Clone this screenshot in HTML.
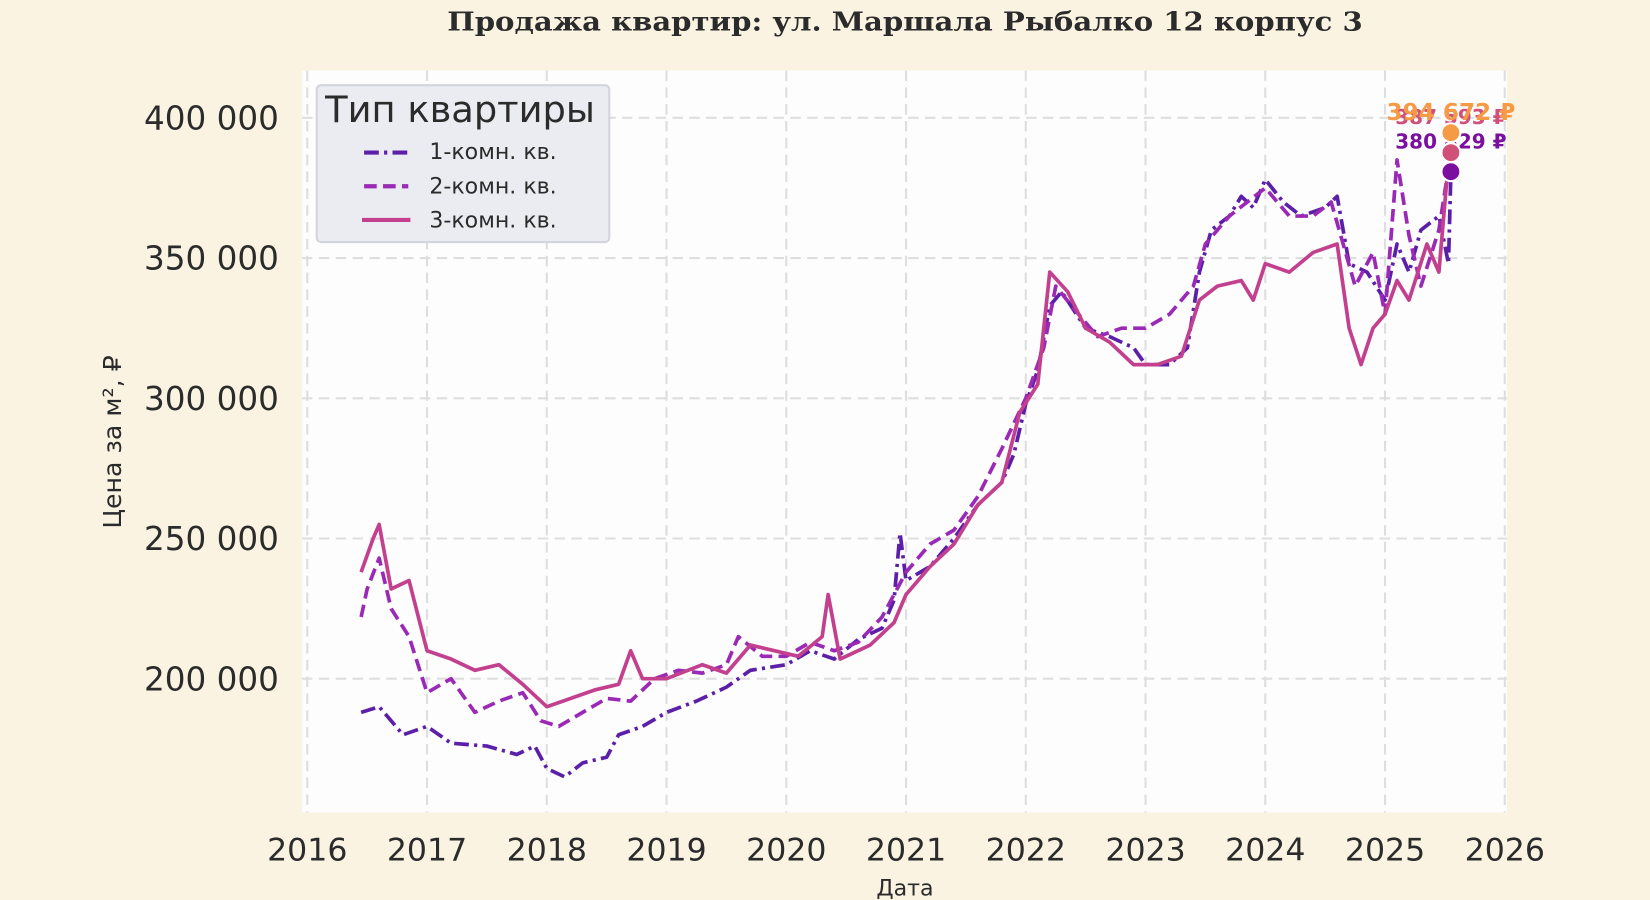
<!DOCTYPE html>
<html><head><meta charset="utf-8"><style>
body{margin:0;background:#fbf3e2;}
svg{display:block;font-family:"DejaVu Sans","Liberation Sans",sans-serif;}
</style></head><body>
<svg id="chart" width="1650" height="900" viewBox="0 0 1568 855.3" preserveAspectRatio="none">
<rect width="1568" height="856" fill="#fbf3e2"/>
<text x="860" y="29" text-anchor="middle" font-family="DejaVu Serif,Liberation Serif,serif" font-weight="bold" font-size="25" textLength="870" lengthAdjust="spacingAndGlyphs" fill="#2b2b2b">Продажа квартир: ул. Маршала Рыбалко 12 корпус 3</text>
<rect x="287" y="67" width="1145" height="705" fill="#fdfdfe"/>
<g id="grid"></g><g id="series"></g><g id="ticks"></g>
<text transform="translate(115,420) rotate(-90)" text-anchor="middle" font-size="24" fill="#2b2b2b">Цена за м², ₽</text>
<text x="860" y="851" text-anchor="middle" font-size="21" fill="#2b2b2b">Дата</text>
<g>
<rect x="301" y="81" width="278" height="149" rx="4" fill="#ebebf2" stroke="#d4d4dc" stroke-width="2"/>
<text x="309" y="116" font-size="35" fill="#2b2b2b">Тип квартиры</text>
<g><line x1="346" y1="145" x2="388" y2="145" stroke="#5b1fa8" stroke-width="4" stroke-dasharray="14,5,3,5"/><text x="408" y="151" font-size="21" fill="#2b2b2b">1-комн. кв.</text></g>
<g><line x1="346" y1="177" x2="388" y2="177" stroke="#9a2ab5" stroke-width="4" stroke-dasharray="12,6"/><text x="408" y="184" font-size="21" fill="#2b2b2b">2-комн. кв.</text></g>
<g><line x1="344" y1="209" x2="390" y2="209" stroke="#c2408e" stroke-width="4"/><text x="408" y="216" font-size="21" fill="#2b2b2b">3-комн. кв.</text></g>
</g>
</svg>
<script>
const xTicks=[2016,2017,2018,2019,2020,2021,2022,2023,2024,2025,2026];
const yTicks=[200000,250000,300000,350000,400000];
const yTickLabels=["200 000","250 000","300 000","350 000","400 000"];
const d1=[2016.45,2016.6,2016.8,2017.0,2017.2,2017.5,2017.75,2017.9,2018.0,2018.15,2018.3,2018.5,2018.6,2018.8,2019.0,2019.25,2019.5,2019.7,2020.0,2020.2,2020.4,2020.6,2020.8,2020.9,2020.95,2021.0,2021.2,2021.4,2021.6,2021.8,2021.9,2022.0,2022.1,2022.2,2022.3,2022.5,2022.7,2022.9,2023.0,2023.2,2023.35,2023.45,2023.55,2023.7,2023.8,2023.9,2024.0,2024.15,2024.3,2024.5,2024.6,2024.7,2024.85,2025.0,2025.1,2025.2,2025.3,2025.45,2025.53,2025.55];
const v1=[188,190,180,183,177,176,173,176,168,165,170,172,180,183,188,192,197,203,205,210,207,214,218,228,252,235,240,250,262,270,280,298,310,333,338,325,322,318,312,312,318,345,360,365,372,368,378,370,365,368,372,348,345,335,355,345,360,365,348,380.8];
const d2=[2016.45,2016.5,2016.6,2016.7,2016.85,2017.0,2017.2,2017.4,2017.6,2017.8,2017.95,2018.1,2018.3,2018.5,2018.7,2018.9,2019.1,2019.3,2019.5,2019.6,2019.8,2020.0,2020.2,2020.4,2020.6,2020.8,2021.0,2021.2,2021.4,2021.6,2021.8,2022.0,2022.15,2022.25,2022.4,2022.6,2022.8,2023.0,2023.2,2023.4,2023.5,2023.7,2023.85,2024.0,2024.2,2024.4,2024.55,2024.65,2024.75,2024.9,2025.0,2025.1,2025.2,2025.3,2025.45,2025.55];
const v2=[222,232,243,225,215,195,200,188,192,195,185,183,188,193,192,200,203,202,205,215,208,208,213,210,213,222,238,248,253,265,282,300,318,340,332,322,325,325,330,340,355,365,370,375,365,365,370,355,340,352,330,385,358,340,360,387.6];
const d3=[2016.45,2016.55,2016.6,2016.7,2016.85,2017.0,2017.2,2017.4,2017.6,2017.8,2018.0,2018.2,2018.4,2018.6,2018.7,2018.8,2019.0,2019.3,2019.5,2019.7,2019.9,2020.1,2020.3,2020.35,2020.45,2020.7,2020.9,2021.0,2021.2,2021.4,2021.6,2021.8,2021.95,2022.1,2022.2,2022.35,2022.5,2022.7,2022.9,2023.1,2023.3,2023.45,2023.6,2023.8,2023.9,2024.0,2024.2,2024.4,2024.6,2024.7,2024.8,2024.9,2025.0,2025.1,2025.2,2025.35,2025.45,2025.55];
const v3=[238,250,255,232,235,210,207,203,205,198,190,193,196,198,210,200,200,205,202,212,210,208,215,230,207,212,220,230,240,248,262,270,295,305,345,338,325,320,312,312,315,335,340,342,335,348,345,352,355,325,312,325,330,342,335,355,345,394.7];
const endLabels=["380 829 ₽","387 593 ₽","394 672 ₽"];
const NS="http://www.w3.org/2000/svg";
const X=t=>292+(t-2016)*113.8;
const Y=v=>645-(v-200000)*0.002665;
function mk(tag,attrs,parent){const e=document.createElementNS(NS,tag);for(const k in attrs)e.setAttribute(k,attrs[k]);parent.appendChild(e);return e;}
const grid=document.getElementById('grid'),ticks=document.getElementById('ticks'),ser=document.getElementById('series');
xTicks.forEach(t=>{
 const l=mk('line',{x1:X(t),x2:X(t),y1:67,y2:772,stroke:'#dedede','stroke-width':2,'stroke-dasharray':'10,6'},grid);
 
 
 const tx=mk('text',{x:X(t),y:818,'text-anchor':'middle','font-size':30,fill:'#2b2b2b'},ticks);tx.textContent=t;
 
 
});
yTicks.forEach((v,i)=>{
 const l=mk('line',{x1:287,x2:1432,y1:Y(v),y2:Y(v),stroke:'#dedede','stroke-width':2,'stroke-dasharray':'10,6'},grid);
 
 
 const tx=mk('text',{x:265,y:Y(v)+11,'text-anchor':'end','font-size':31,fill:'#2b2b2b'},ticks);tx.textContent=yTickLabels[i];
 
 
});
const defs=[[d1,v1,'#5b1fa8','14,5,3,5','series-1-room'],[d2,v2,'#9a2ab5','12,6','series-2-room'],[d3,v3,'#c2408e','none','series-3-room']];
defs.forEach(([d,v,c,da,n])=>{
 const pts=d.map((t,i)=>X(t).toFixed(1)+','+Y(v[i]*1000).toFixed(1)).join(' ');
 const p=mk('polyline',{points:pts,fill:'none',stroke:c,'stroke-width':3.5,'stroke-dasharray':da,'stroke-linejoin':'round'},ser);
 
 
});
const dotCols=['#7a0fa0','#d0507a','#f59a45'];
const labOff=[-22,-27,-12];
defs.forEach(([d,v],i)=>{
 const t=d[d.length-1],val=v[v.length-1]*1000;
 const c=mk('circle',{cx:X(t),cy:Y(val),r:9,fill:dotCols[i],stroke:'#fff','stroke-width':2},ser);
 
 
 const tx=mk('text',{x:X(t),y:Y(val)+labOff[i],'text-anchor':'middle','font-size':i==2?22:19,'font-weight':'bold',fill:dotCols[i]},ser);
 tx.textContent=endLabels[i];
 
 
});
</script>
</body></html>
